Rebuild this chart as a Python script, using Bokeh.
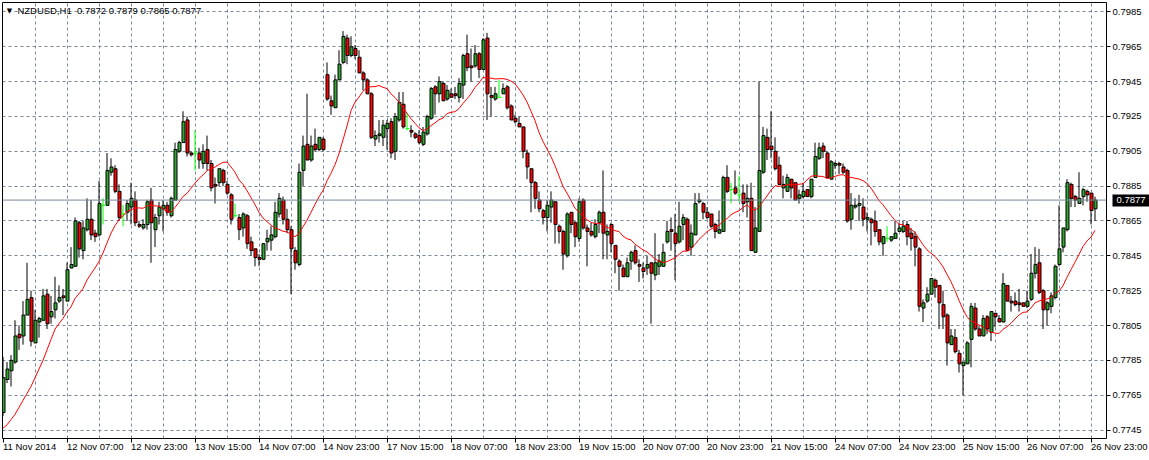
import numpy as np
from bokeh.plotting import figure
from bokeh.models import FixedTicker, PrintfTickFormatter, Span, Label, Range1d, ColumnDataSource, LinearAxis
from bokeh.embed import file_html
from bokeh.resources import INLINE

# ---------------- data (NZDUSD, H1) ----------------
open_ = [
    .7755, .7774, .7779, .7784, .7800, .7799, .7811, .7821, .7795, .7807,
    .7808, .7823, .7810, .7814, .7819, .7822, .7819, .7838, .7839, .7864,
    .7848, .7860, .7866, .7858, .7857, .7874, .7874, .7893, .7895, .7882,
    .7869, .7870, .7873, .7877, .7863, .7861, .7863, .7877, .7860, .7868,
    .7872, .7874, .7868, .7877, .7905, .7910, .7923, .7904, .7904, .7904,
    .7898, .7906, .7898, .7886, .7887, .7894, .7886, .7880, .7868, .7867,
    .7861, .7868, .7853, .7849, .7844, .7843, .7853, .7854, .7856, .7869,
    .7877, .7866, .7860, .7848, .7840, .7894, .7909, .7900, .7909, .7906,
    .7912, .7949, .7934, .7930, .7946, .7956, .7970, .7960, .7964, .7959,
    .7950, .7946, .7938, .7912, .7914, .7913, .7918, .7922, .7905, .7923,
    .7932, .7918, .7917, .7915, .7914, .7909, .7915, .7924, .7942, .7938,
    .7944, .7935, .7938, .7938, .7936, .7943, .7961, .7954, .7954, .7961,
    .7952, .7970, .7937, .7935, .7936, .7938, .7942, .7931, .7924, .7921,
    .7919, .7904, .7895, .7887, .7877, .7871, .7867, .7873, .7876, .7862,
    .7859, .7845, .7870, .7864, .7855, .7877, .7861, .7859, .7856, .7864,
    .7870, .7857, .7863, .7851, .7842, .7838, .7833, .7842, .7848, .7840,
    .7838, .7838, .7841, .7834, .7839, .7839, .7853, .7860, .7858, .7853,
    .7863, .7866, .7850, .7857, .7876, .7875, .7870, .7869, .7863, .7858,
    .7859, .7890, .7883, .7884, .7880, .7881, .7876, .7878, .7847, .7859,
    .7893, .7913, .7908, .7905, .7897, .7884, .7882, .7889, .7887, .7878,
    .7879, .7883, .7879, .7890, .7901, .7908, .7904, .7889, .7897, .7898,
    .7896, .7894, .7866, .7873, .7874, .7873, .7866, .7866, .7865, .7860,
    .7852, .7855, .7854, .7855, .7859, .7859, .7863, .7858, .7856, .7849,
    .7815, .7819, .7823, .7831, .7828, .7817, .7811, .7794, .7798, .7789,
    .7782, .7783, .7797, .7815, .7803, .7799, .7810, .7801, .7812, .7809,
    .7807, .7828, .7819, .7819, .7818, .7818, .7816, .7820, .7835, .7841,
    .7825, .7814, .7816, .7821, .7840, .7850, .7860, .7886, .7879, .7875,
    .7879, .7882, .7881, .7872,
]
high = [
    .7787, .7784, .7788, .7808, .7805, .7819, .7841, .7825, .7814, .7810,
    .7826, .7826, .7822, .7833, .7828, .7826, .7841, .7850, .7867, .7865,
    .7865, .7878, .7877, .7860, .7888, .7878, .7904, .7901, .7897, .7886,
    .7874, .7877, .7887, .7882, .7865, .7866, .7877, .7884, .7869, .7876,
    .7877, .7876, .7879, .7910, .7911, .7928, .7925, .7905, .7917, .7907,
    .7909, .7914, .7900, .7890, .7895, .7895, .7888, .7881, .7875, .7869,
    .7870, .7869, .7856, .7849, .7846, .7852, .7860, .7862, .7876, .7881,
    .7879, .7872, .7862, .7850, .7898, .7914, .7938, .7914, .7918, .7913,
    .7913, .7956, .7937, .7949, .7963, .7974, .7972, .7971, .7966, .7963,
    .7951, .7947, .7939, .7917, .7923, .7923, .7923, .7924, .7927, .7939,
    .7939, .7927, .7920, .7916, .7917, .7919, .7926, .7942, .7943, .7948,
    .7945, .7943, .7941, .7942, .7947, .7961, .7972, .7964, .7966, .7962,
    .7970, .7973, .7942, .7942, .7946, .7944, .7943, .7932, .7926, .7925,
    .7919, .7906, .7895, .7888, .7882, .7872, .7877, .7882, .7876, .7863,
    .7860, .7870, .7870, .7865, .7878, .7878, .7863, .7864, .7866, .7871,
    .7894, .7863, .7864, .7851, .7843, .7840, .7844, .7848, .7851, .7843,
    .7841, .7845, .7841, .7858, .7846, .7852, .7865, .7867, .7869, .7876,
    .7869, .7867, .7863, .7881, .7881, .7876, .7873, .7869, .7864, .7871,
    .7891, .7897, .7887, .7894, .7891, .7886, .7886, .7887, .7873, .7945,
    .7919, .7918, .7928, .7913, .7902, .7891, .7892, .7889, .7887, .7883,
    .7887, .7883, .7889, .7910, .7910, .7910, .7905, .7900, .7899, .7899,
    .7898, .7895, .7881, .7878, .7880, .7878, .7870, .7867, .7871, .7860,
    .7856, .7862, .7856, .7865, .7864, .7865, .7865, .7861, .7859, .7850,
    .7820, .7827, .7832, .7832, .7828, .7825, .7812, .7803, .7803, .7791,
    .7784, .7796, .7818, .7818, .7805, .7811, .7811, .7813, .7812, .7811,
    .7835, .7828, .7822, .7824, .7826, .7818, .7825, .7846, .7850, .7849,
    .7826, .7819, .7824, .7840, .7874, .7861, .7889, .7887, .7880, .7893,
    .7884, .7883, .7881, .7879,
]
low = [
    .7753, .7772, .7770, .7783, .7791, .7794, .7811, .7793, .7795, .7798,
    .7808, .7803, .7806, .7809, .7818, .7811, .7819, .7838, .7839, .7844,
    .7843, .7859, .7854, .7853, .7856, .7863, .7874, .7891, .7881, .7865,
    .7862, .7865, .7863, .7862, .7861, .7860, .7860, .7841, .7850, .7863,
    .7859, .7868, .7867, .7877, .7904, .7910, .7902, .7902, .7894, .7895,
    .7895, .7894, .7882, .7875, .7885, .7885, .7880, .7863, .7867, .7854,
    .7856, .7849, .7845, .7839, .7839, .7843, .7848, .7848, .7855, .7867,
    .7863, .7858, .7823, .7837, .7839, .7885, .7900, .7899, .7905, .7905,
    .7905, .7934, .7926, .7930, .7946, .7955, .7955, .7959, .7958, .7950,
    .7940, .7938, .7912, .7908, .7910, .7908, .7906, .7901, .7900, .7922,
    .7918, .7917, .7913, .7912, .7909, .7908, .7914, .7923, .7926, .7933,
    .7934, .7934, .7936, .7935, .7933, .7935, .7951, .7945, .7953, .7947,
    .7952, .7923, .7925, .7934, .7936, .7938, .7929, .7923, .7921, .7919,
    .7901, .7889, .7870, .7872, .7870, .7863, .7859, .7864, .7852, .7852,
    .7837, .7844, .7858, .7850, .7853, .7860, .7839, .7856, .7855, .7858,
    .7843, .7843, .7847, .7835, .7825, .7833, .7833, .7837, .7840, .7830,
    .7832, .7834, .7806, .7831, .7834, .7839, .7852, .7848, .7831, .7852,
    .7854, .7848, .7845, .7857, .7875, .7866, .7866, .7861, .7855, .7858,
    .7859, .7881, .7875, .7880, .7876, .7870, .7867, .7848, .7847, .7859,
    .7892, .7900, .7901, .7894, .7886, .7878, .7882, .7878, .7877, .7875,
    .7878, .7879, .7878, .7890, .7900, .7901, .7890, .7889, .7895, .7892,
    .7892, .7864, .7860, .7872, .7865, .7862, .7859, .7851, .7856, .7851,
    .7845, .7853, .7853, .7855, .7859, .7858, .7851, .7848, .7839, .7813,
    .7807, .7818, .7823, .7821, .7803, .7803, .7782, .7794, .7789, .7778,
    .7765, .7783, .7781, .7802, .7799, .7799, .7800, .7796, .7804, .7807,
    .7807, .7819, .7813, .7816, .7813, .7816, .7815, .7819, .7832, .7823,
    .7803, .7805, .7812, .7820, .7839, .7847, .7859, .7873, .7873, .7875,
    .7874, .7876, .7863, .7865,
]
close = [
    .7775, .7780, .7785, .7799, .7798, .7811, .7820, .7796, .7808, .7809,
    .7822, .7806, .7813, .7818, .7821, .7821, .7837, .7840, .7865, .7849,
    .7861, .7866, .7857, .7856, .7875, .7874, .7894, .7896, .7882, .7867,
    .7869, .7875, .7878, .7864, .7862, .7863, .7876, .7864, .7867, .7873,
    .7874, .7870, .7878, .7906, .7910, .7922, .7904, .7903, .7904, .7900,
    .7905, .7898, .7884, .7885, .7895, .7887, .7881, .7866, .7868, .7860,
    .7869, .7852, .7848, .7844, .7843, .7852, .7855, .7857, .7870, .7878,
    .7866, .7860, .7849, .7841, .7893, .7908, .7900, .7908, .7906, .7913,
    .7906, .7935, .7931, .7946, .7955, .7971, .7960, .7965, .7960, .7950,
    .7946, .7938, .7913, .7914, .7915, .7920, .7921, .7904, .7925, .7933,
    .7919, .7918, .7916, .7913, .7910, .7916, .7925, .7941, .7938, .7945,
    .7934, .7940, .7936, .7937, .7944, .7960, .7953, .7953, .7961, .7952,
    .7969, .7938, .7936, .7938, .7936, .7941, .7930, .7923, .7922, .7919,
    .7905, .7896, .7887, .7878, .7872, .7867, .7874, .7877, .7863, .7859,
    .7846, .7869, .7863, .7856, .7876, .7861, .7859, .7857, .7863, .7870,
    .7858, .7859, .7852, .7843, .7839, .7833, .7841, .7847, .7841, .7839,
    .7836, .7840, .7835, .7841, .7842, .7847, .7859, .7859, .7852, .7862,
    .7867, .7848, .7858, .7875, .7877, .7870, .7867, .7862, .7859, .7860,
    .7890, .7882, .7883, .7881, .7880, .7875, .7878, .7848, .7861, .7894,
    .7914, .7906, .7906, .7895, .7886, .7886, .7890, .7884, .7877, .7880,
    .7882, .7879, .7889, .7902, .7907, .7905, .7890, .7899, .7898, .7897,
    .7893, .7865, .7874, .7874, .7875, .7866, .7867, .7864, .7859, .7853,
    .7856, .7855, .7856, .7858, .7861, .7862, .7856, .7855, .7850, .7816,
    .7818, .7823, .7832, .7827, .7818, .7810, .7795, .7799, .7790, .7783,
    .7784, .7795, .7816, .7803, .7799, .7809, .7803, .7813, .7810, .7807,
    .7829, .7819, .7818, .7817, .7817, .7816, .7819, .7835, .7840, .7824,
    .7814, .7818, .7822, .7839, .7849, .7861, .7887, .7878, .7877, .7878,
    .7883, .7880, .7871, .7877,
]
# moving average (14) values for the first bars,
# whose window reaches back before the visible data
ma_head = [.7746, .7748, .7751, .7754, .7758, .7762, .7766, .7770, .7775,
           .7780, .7785, .7791, .7797]
ma_period = 14

x_tick_bars = [0, 16, 32, 48, 64, 80, 96, 112, 128, 144, 160, 176, 192, 208,
               224, 240, 256, 272]
x_tick_labels = ["11 Nov 2014", "12 Nov 07:00", "12 Nov 23:00", "13 Nov 15:00",
                 "14 Nov 07:00", "14 Nov 23:00", "17 Nov 15:00", "18 Nov 07:00",
                 "18 Nov 23:00", "19 Nov 15:00", "20 Nov 07:00", "20 Nov 23:00",
                 "21 Nov 15:00", "24 Nov 07:00", "24 Nov 23:00", "25 Nov 15:00",
                 "26 Nov 07:00", "26 Nov 23:00"]
y_tick_labels = ["0.7745", "0.7765", "0.7785", "0.7805", "0.7825", "0.7845",
                 "0.7865", "0.7885", "0.7905", "0.7925", "0.7945", "0.7965",
                 "0.7985"]
symbol_title = "NZDUSD,H1\u00a0 0.7872 0.7879 0.7865 0.7877"
bid_price = 0.7877

# ---------------- build ----------------
o = np.array(open_); h = np.array(high); l = np.array(low); c = np.array(close)
N = len(c)
bars = np.arange(N)
ma = list(ma_head) + [float(np.mean(c[i - ma_period + 1:i + 1])) for i in range(len(ma_head), N)]

FONT = "Liberation Sans"
FSIZE = "9.5px"
BULL = "#2FA82F"
BEAR = "#FF0000"
DOJI = "#00FF00"
GRID = "#778899"

p = figure(width=1149, height=460, output_backend="svg", toolbar_location=None, tools="",
           x_range=Range1d(-0.125, 275.875), y_range=Range1d(0.7740134, 0.799042),
           y_axis_location="right",
           min_border_left=2, min_border_top=2, min_border_right=43, min_border_bottom=20)
p.background_fill_color = "white"
p.border_fill_color = "white"
p.outline_line_color = "black"
p.outline_line_width = 1

# y axis (right)
ya = p.yaxis[0]
ya.ticker = FixedTicker(ticks=[float(s) for s in y_tick_labels])
ya.formatter = PrintfTickFormatter(format="%.4f")
ya.axis_line_color = None
ya.major_tick_out = 4
ya.major_tick_in = 0
ya.minor_tick_out = 0
ya.minor_tick_in = 0
ya.major_tick_line_color = "black"
ya.major_label_standoff = 2
ya.major_label_text_font = FONT
ya.major_label_text_font_size = FSIZE
ya.major_label_text_color = "black"

# bid price marker on the price scale: a second right axis whose single
# thick tick forms the black box, with the price in white on top of it
W1 = 34   # width taken by the first price axis
TOUT = 8
bid_axis = LinearAxis(ticker=FixedTicker(ticks=[bid_price]),
                      formatter=PrintfTickFormatter(format="%.4f"))
bid_axis.axis_line_color = None
bid_axis.minor_tick_out = 0
bid_axis.minor_tick_in = 0
bid_axis.major_tick_in = W1 - 2
bid_axis.major_tick_out = TOUT
bid_axis.major_tick_line_color = "black"
bid_axis.major_tick_line_width = 12
bid_axis.major_tick_line_cap = "butt"
bid_axis.major_label_standoff = -(W1 - 6) - TOUT
bid_axis.major_label_text_font = FONT
bid_axis.major_label_text_font_size = FSIZE
bid_axis.major_label_text_color = "white"
p.add_layout(bid_axis, "right")

# x axis (labels left-aligned at the tick, as on the reference)
xa = p.xaxis[0]
xa.ticker = FixedTicker(ticks=x_tick_bars)
xa.major_label_overrides = {b: lab for b, lab in zip(x_tick_bars, x_tick_labels)}
xa.major_label_orientation = -0.0001
xa.major_label_standoff = 4
xa.major_label_text_font = FONT
xa.major_label_text_font_size = FSIZE
xa.major_label_text_color = "black"
xa.axis_line_color = None
xa.major_tick_out = 4
xa.major_tick_in = 0
xa.minor_tick_out = 0
xa.minor_tick_in = 0
xa.major_tick_line_color = "black"

# grid
p.xgrid.ticker = FixedTicker(ticks=list(range(8, 273, 8)))
p.grid.grid_line_color = GRID
p.grid.grid_line_dash = "3 3"
p.grid.grid_line_width = 1

# bid line
p.add_layout(Span(location=bid_price, dimension="width", line_color=GRID, line_width=1))

# candles: 1px wick, 4px body (black outline, 2px colour fill)
is_doji = c == o
norm = ~is_doji
src_w = ColumnDataSource(dict(x=bars[norm], lo=l[norm], hi=h[norm]))
p.segment(x0="x", y0="lo", x1="x", y1="hi", source=src_w, line_color="black", line_width=1)

src_b = ColumnDataSource(dict(
    x=bars[norm] + 0.125,
    top=np.maximum(o, c)[norm],
    bot=np.minimum(o, c)[norm],
    col=[BULL if cc > oo else BEAR for oo, cc in zip(o[norm], c[norm])],
))
p.vbar(x="x", width=0.75, top="top", bottom="bot", fill_color="col",
       line_color="black", line_width=1, source=src_b)

src_d = ColumnDataSource(dict(x=bars[is_doji], lo=l[is_doji], hi=h[is_doji], op=o[is_doji],
                              xl=bars[is_doji] - 0.375, xr=bars[is_doji] + 0.625))
p.segment(x0="x", y0="lo", x1="x", y1="hi", source=src_d, line_color=DOJI, line_width=1)
p.segment(x0="xl", y0="op", x1="xr", y1="op", source=src_d, line_color=DOJI, line_width=1)

# moving average
p.line(bars, ma, line_color="#FF0000", line_width=1)

# title
p.add_layout(Label(x=1.6, y=0.79856, text="\u25bc", text_font="DejaVu Sans",
                   text_font_size="7px", text_color="black",
                   text_align="center", text_baseline="middle"))
p.add_layout(Label(x=3.6, y=0.79856, text=symbol_title, text_font=FONT,
                   text_font_size=FSIZE, text_color="black",
                   text_align="left", text_baseline="middle"))

open("out.html", "w").write(file_html(p, INLINE))
